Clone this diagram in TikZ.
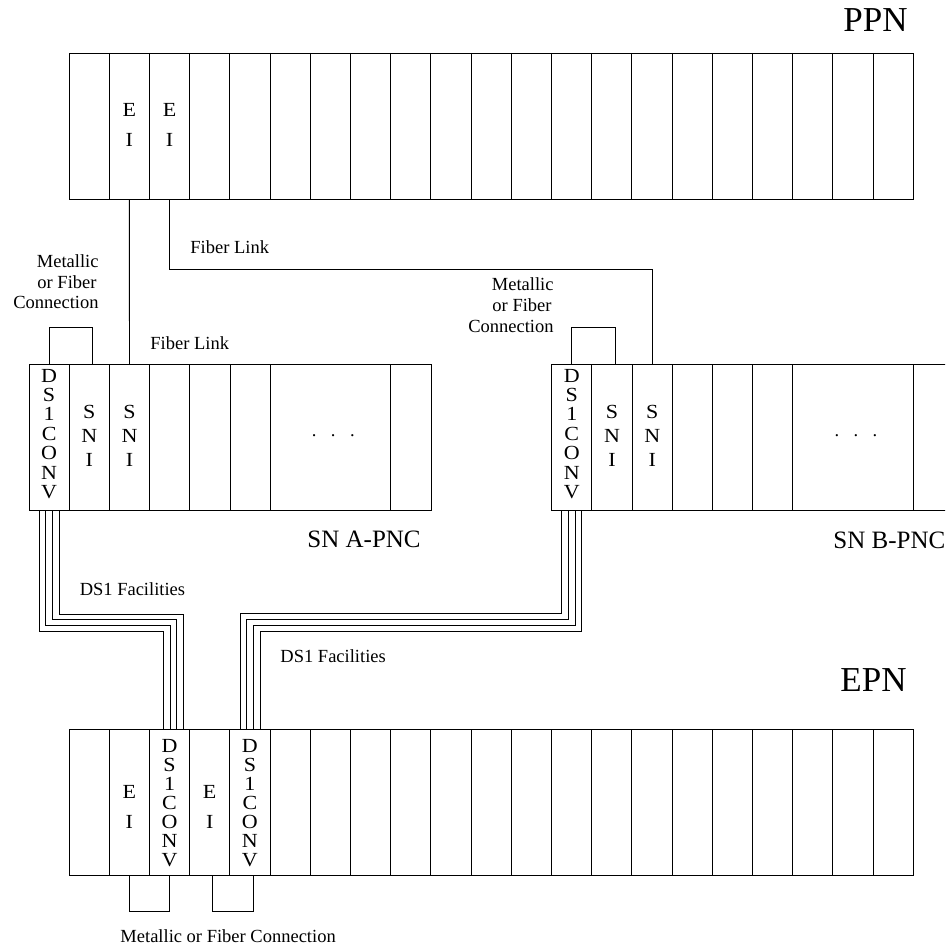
\documentclass[tikz,border=0pt]{standalone}
\usepackage{fontspec}
\setmainfont{Liberation Serif}
\newfontfamily\slotfont[FakeStretch=1.1]{Liberation Serif}
\begin{document}
\begin{tikzpicture}[x=1pt,y=-1pt,line width=0.9pt,
  sm/.style={font=\fontsize{18.5}{20.5}\selectfont,inner sep=0pt},
  big/.style={font=\fontsize{35}{40}\selectfont,inner sep=0pt},
  mid/.style={font=\fontsize{25}{30}\selectfont,inner sep=0pt},
  convlbl/.style={font=\slotfont\fontsize{20}{19.4}\selectfont,inner sep=0pt,align=center,anchor=north},
  snilbl/.style={font=\slotfont\fontsize{20}{24}\selectfont,inner sep=0pt,align=center,anchor=north},
  eilbl/.style={font=\slotfont\fontsize{20}{30}\selectfont,inner sep=0pt,align=center,anchor=north},
  wire/.style={line width=0.9pt}]
\useasboundingbox (0,0) rectangle (945,947);
\clip (0,0) rectangle (945,947);
\def\w{40.2}
% ---------- PPN ----------
\draw (69,53) rectangle ({69+21*\w},199);
\foreach \k in {1,...,20} \draw ({69+\k*\w},53) -- ({69+\k*\w},199);
\node[big,anchor=base east] (ppn) at (908,32) {PPN};
\node[eilbl] (ppnei1) at (129.3,102.7) {E\\I};
\node[eilbl] (ppnei2) at (169.5,102.7) {E\\I};
\coordinate (ppn2) at (129.3,199);
\coordinate (ppn3) at (169.5,199);
% ---------- SN A ----------
\draw (29,364) rectangle ({29+10*\w},510);
\foreach \k in {1,2,3,4,5,6,9} \draw ({29+\k*\w},364) -- ({29+\k*\w},510);
\node[convlbl] (aconv) at (49.1,368.5) {D\\S\\1\\C\\O\\N\\V};
\node[snilbl] (asni1) at (89.3,404.5) {S\\N\\I};
\node[snilbl] (asni2) at (129.5,404.5) {S\\N\\I};
\node[sm,anchor=base] (adots) at (333.3,436) {.\hspace{14.4pt}.\hspace{14.4pt}.};
\node[mid,anchor=base west] (sna) at (307,547) {SN A-PNC};
\coordinate (snA3) at (129.5,364);
\coordinate (aL1) at (49,364);
\coordinate (aL2) at (92.7,364);
\coordinate (aLt) at (49,327);
% ---------- SN B ----------
\draw (551.7,364) rectangle ({551.7+10*\w},510);
\foreach \k in {1,2,3,4,5,6,9} \draw ({551.7+\k*\w},364) -- ({551.7+\k*\w},510);
\node[convlbl] (bconv) at (571.8,368.5) {D\\S\\1\\C\\O\\N\\V};
\node[snilbl] (bsni1) at (612,404.5) {S\\N\\I};
\node[snilbl] (bsni2) at (652.2,404.5) {S\\N\\I};
\node[sm,anchor=base] (bdots) at (856,436) {.\hspace{14.4pt}.\hspace{14.4pt}.};
\node[mid,anchor=base west] (snb) at (833,548) {SN B-PNC};
\coordinate (snB3) at (652.2,364);
\coordinate (bL1) at (571.7,364);
\coordinate (bL2) at (615,364);
\coordinate (bLt) at (571.7,327.7);
% ---------- EPN ----------
\draw (69,729.3) rectangle ({69+21*\w},875);
\foreach \k in {1,...,20} \draw ({69+\k*\w},729.3) -- ({69+\k*\w},875);
\node[big,anchor=base east] (epn) at (907,691) {EPN};
\node[eilbl] (epnei1) at (129.3,785.3) {E\\I};
\node[eilbl] (epnei2) at (209.7,785.3) {E\\I};
\node[convlbl,font=\slotfont\fontsize{20}{19}\selectfont] (econv1) at (169.5,738.5) {D\\S\\1\\C\\O\\N\\V};
\node[convlbl,font=\slotfont\fontsize{20}{19}\selectfont] (econv2) at (249.9,738.5) {D\\S\\1\\C\\O\\N\\V};
\coordinate (eL1a) at (129.3,875);
\coordinate (eL1b) at (169.3,875);
\coordinate (eL2a) at (212.7,875);
\coordinate (eL2b) at (253.3,875);
% ---------- texts ----------
\node[sm,anchor=base west] (fl1) at (190,253) {Fiber Link};
\node[sm,anchor=base west] (fl2) at (150,349) {Fiber Link};
\node[sm,anchor=base east] (ma1) at (99,267) {Metallic};
\node[sm,anchor=base east] (ma2) at (97,288) {or Fiber};
\node[sm,anchor=base east] (ma3) at (99,308.5) {Connection};
\node[sm,anchor=base east] (mb1) at (554,290.7) {Metallic};
\node[sm,anchor=base east] (mb2) at (552,311.5) {or Fiber};
\node[sm,anchor=base east] (mb3) at (554,332) {Connection};
\node[sm,anchor=base west] (dsa) at (79.3,595) {DS1 Facilities};
\node[sm,anchor=base west] (dsb) at (280,662) {DS1 Facilities};
\node[sm,anchor=base west] (mc) at (120,942) {Metallic or Fiber Connection};
% ---------- connectors ----------
\coordinate (flk) at (652.2,269.3);
\draw[wire] (ppn2) -- (snA3);
\draw[wire] (ppn3) |- (flk) -- (snB3);
\draw[wire] (aL1) -- (aLt) -| (aL2);
\draw[wire] (bL1) -- (bLt) -| (bL2);
\draw[wire] (eL1a) -- (129.3,911.7) -| (eL1b);
\draw[wire] (eL2a) -- (212.7,911.7) -| (eL2b);
\foreach \i in {0,...,3} {
  \coordinate (as\i) at ({39+6.67*\i},510);
  \coordinate (ae\i) at ({163.3+6.67*\i},729.3);
  \coordinate (am\i) at ({163.3+6.67*\i},{631.7-5.9*\i});
  \draw[wire] (as\i) |- (am\i) -- (ae\i);
  \coordinate (bs\i) at ({561.7+6.67*\i},510);
  \coordinate (be\i) at ({240+6.67*\i},729.3);
  \coordinate (bm\i) at ({240+6.67*\i},{613.7+6*\i});
  \draw[wire] (bs\i) |- (bm\i) -- (be\i);
}
\end{tikzpicture}
\end{document}
